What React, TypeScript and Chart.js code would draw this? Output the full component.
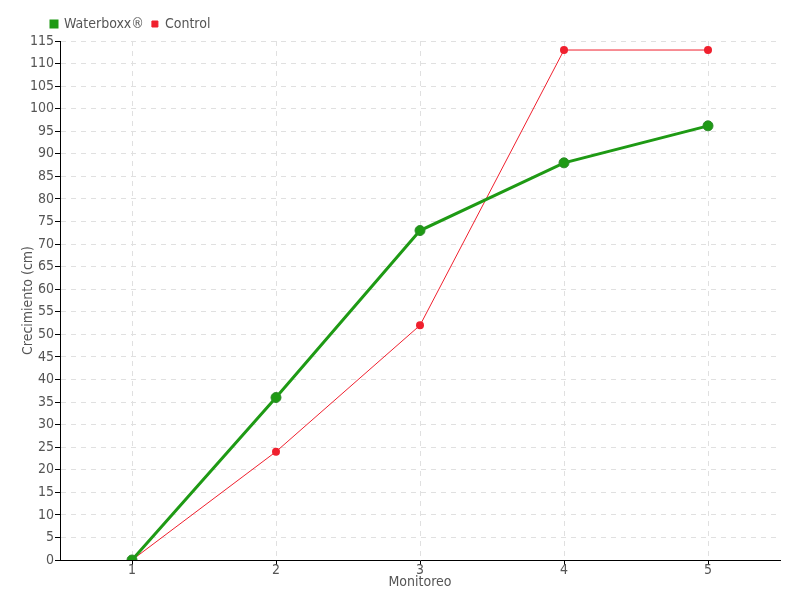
import React, { useEffect, useRef } from "react";
import { Chart, registerables } from "chart.js";

Chart.register(...registerables);

const categories = ["1", "2", "3", "4", "5"];
const waterboxx = [0, 36, 73, 88, 96.2];
const control = [0, 24, 52, 113, 113];
const yMax = 115;
const yStep = 5;

const FONT = "'DejaVu Sans Condensed', 'Liberation Sans Narrow', sans-serif";

const legendShift = {
  id: "legendShift",
  afterLayout(chart: any) {
    if (chart.legend) {
      chart.legend.left += 23;
    }
  },
};

export default function App() {
  const ref = useRef<HTMLCanvasElement | null>(null);
  useEffect(() => {
    document.body.style.margin = "0";
    const ctx = ref.current!.getContext("2d")!;
    const chart = new Chart(ctx, {
      type: "line",
      data: {
        labels: categories,
        datasets: [
          {
            label: "Waterboxx®",
            data: waterboxx,
            borderColor: "#1e9a14",
            backgroundColor: "#1e9a14",
            pointBackgroundColor: "#1e9a14",
            pointBorderColor: "#2d8a2a",
            pointRadius: 5,
            pointBorderWidth: 1,
            borderWidth: 3,
            tension: 0,
            fill: false,
          },
          {
            label: "Control",
            data: control,
            borderColor: "#f0202e",
            backgroundColor: "#f0202e",
            pointBackgroundColor: "#f0202e",
            pointBorderColor: "#f0202e",
            pointRadius: 4,
            pointBorderWidth: 0,
            borderWidth: 1,
            tension: 0,
            fill: false,
          },
        ],
      },
      plugins: [legendShift],
      options: {
        animation: false,
        responsive: false,
        layout: { padding: { left: 20, right: 20, top: 9, bottom: 9 } },
        plugins: {
          legend: {
            position: "top",
            align: "start",
            labels: {
              boxWidth: 6,
              boxHeight: 6,
              padding: 8,
              color: "#555",
              font: { family: FONT, size: 14 },
              sort: (a: any, b: any) => a.datasetIndex - b.datasetIndex,
            },
          },
          tooltip: { enabled: false },
        },
        scales: {
          x: {
            type: "category",
            offset: true,
            grid: {
              offset: false,
              color: "#e0e0e0",
              tickColor: "#000",
              tickLength: 5,
            } as any,
            border: { color: "#000", width: 1, dash: [5, 5] } as any,
            ticks: { color: "#555", font: { family: FONT, size: 14 }, padding: -3 },
            title: {
              display: true,
              text: "Monitoreo",
              color: "#555",
              font: { family: FONT, size: 14 },
              padding: { top: 0, bottom: 0 },
            },
            afterFit: (scale: any) => {
              scale.height = 31;
            },
          },
          y: {
            min: 0,
            max: yMax,
            grid: {
              color: "#e0e0e0",
              tickColor: "#000",
              tickLength: 5,
            } as any,
            border: { color: "#000", width: 1, dash: [5, 5] } as any,
            ticks: {
              stepSize: yStep,
              color: "#555",
              font: { family: FONT, size: 14 },
              padding: 1,
              autoSkip: false,
            },
            title: {
              display: true,
              text: "Crecimiento (cm)",
              color: "#555",
              font: { family: FONT, size: 14 },
              padding: { top: 0, bottom: 2 },
            },
            afterFit: (scale: any) => {
              scale.width = 40;
            },
          },
        },
      },
    });
    return () => chart.destroy();
  }, []);
  return (
    <div style={{ position: "absolute", left: 0, top: 0, width: 800, height: 600 }}>
      <canvas ref={ref} width={800} height={600} />
    </div>
  );
}
